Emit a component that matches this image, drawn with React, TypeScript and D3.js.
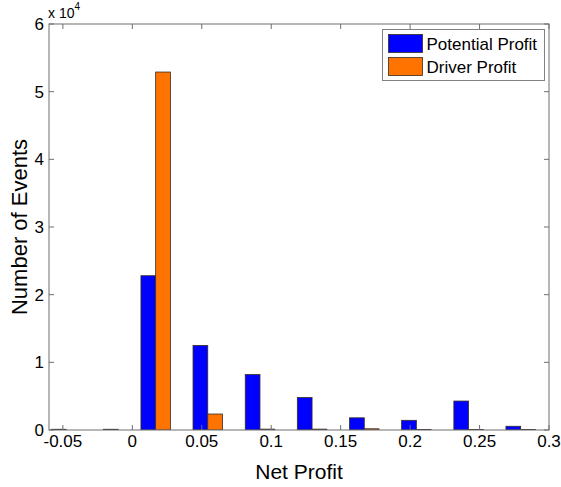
import React from "react";
import * as d3 from "d3";

const binCenters = [-0.0583, -0.0208, 0.0168, 0.0543, 0.0919, 0.1294, 0.167, 0.2045, 0.2421, 0.2796];
const potentialProfit = [0, 0, 22800, 12500, 8200, 4800, 1800, 1430, 4280, 550];
const driverProfit = [110, 110, 52900, 2360, 130, 130, 180, 80, 80, 80];
const xTicks = [-0.05, 0, 0.05, 0.1, 0.15, 0.2, 0.25, 0.3];
const xTickLabels = ["-0.05", "0", "0.05", "0.1", "0.15", "0.2", "0.25", "0.3"];
const yTicks = [0, 1, 2, 3, 4, 5, 6];
const seriesNames = ["Potential Profit", "Driver Profit"];
const seriesColors = ["#0000ff", "#ff7300"];

const W = 561;
const H = 487;
const m = { left: 49, right: 12, top: 24, bottom: 57 };
const FONT = "'Liberation Sans', Arial, Helvetica, sans-serif";

export default function App() {
  const x = d3.scaleLinear().domain([-0.06, 0.3]).range([m.left, W - m.right]);
  const y = d3.scaleLinear().domain([0, 60000]).range([H - m.bottom, m.top]);
  const barW = 0.0106;
  const x0 = m.left, x1 = W - m.right, y0 = H - m.bottom, y1 = m.top;
  const axisColor = "#6e6e6e";
  const tickLen = 5;
  const series = [potentialProfit, driverProfit];

  return (
    <svg width={W} height={H} style={{ position: "absolute", left: 0, top: 0, background: "#fff" }} fontFamily={FONT}>
      <defs>
        <clipPath id="plotClip">
          <rect x={x0} y={y1} width={x1 - x0} height={y0 - y1} />
        </clipPath>
      </defs>
      <rect x={0} y={0} width={W} height={H} fill="#fff" />
      <g clipPath="url(#plotClip)">
        {series.map((vals, si) =>
          vals.map((v, i) => {
            if (v <= 0) return null;
            const left = si === 0 ? binCenters[i] - barW : binCenters[i];
            const px = x(left);
            const pw = x(left + barW) - px;
            return (
              <rect key={`${si}-${i}`} x={px} y={y(v)} width={pw} height={y(0) - y(v)}
                fill={seriesColors[si]} stroke="#3a2a20" strokeWidth={0.8} />
            );
          })
        )}
      </g>
      {/* box */}
      <rect x={x0} y={y1} width={x1 - x0} height={y0 - y1} fill="none" stroke={axisColor} strokeWidth={1} />
      {/* x ticks */}
      {xTicks.map((t, i) => (
        <g key={`xt${i}`}>
          <line x1={x(t)} x2={x(t)} y1={y0} y2={y0 - tickLen} stroke={axisColor} />
          <line x1={x(t)} x2={x(t)} y1={y1} y2={y1 + tickLen} stroke={axisColor} />
          <text x={x(t)} y={y0 + 17} fontSize={17} textAnchor="middle" fill="#000">{xTickLabels[i]}</text>
        </g>
      ))}
      {/* y ticks */}
      {yTicks.map((t) => (
        <g key={`yt${t}`}>
          <line x1={x0} x2={x0 + tickLen} y1={y(t * 10000)} y2={y(t * 10000)} stroke={axisColor} />
          <line x1={x1} x2={x1 - tickLen} y1={y(t * 10000)} y2={y(t * 10000)} stroke={axisColor} />
          <text x={x0 - 5} y={y(t * 10000)} dy="0.36em" fontSize={17} textAnchor="end" fill="#000">{t}</text>
        </g>
      ))}
      {/* exponent */}
      <text x={48} y={18} fontSize={14} fill="#000">x 10<tspan dy={-8} fontSize={10}>4</tspan></text>
      {/* axis labels */}
      <text x={(x0 + x1) / 2} y={479} fontSize={21} textAnchor="middle" fill="#000">Net Profit</text>
      <text transform={`translate(27,${(y0 + y1) / 2}) rotate(-90)`} fontSize={22} textAnchor="middle" fill="#000">Number of Events</text>
      {/* legend */}
      <g>
        <rect x={382.5} y={29.5} width={162} height={51} fill="#fff" stroke="#808080" strokeWidth={1} />
        {seriesNames.map((name, i) => (
          <g key={name}>
            <rect x={388.5} y={34.5 + i * 23} width={34} height={18} fill={seriesColors[i]} stroke="#3a2a20" strokeWidth={0.8} />
            <text x={426.5} y={43.5 + i * 23} dy="0.36em" fontSize={17} fill="#000">{name}</text>
          </g>
        ))}
      </g>
    </svg>
  );
}
